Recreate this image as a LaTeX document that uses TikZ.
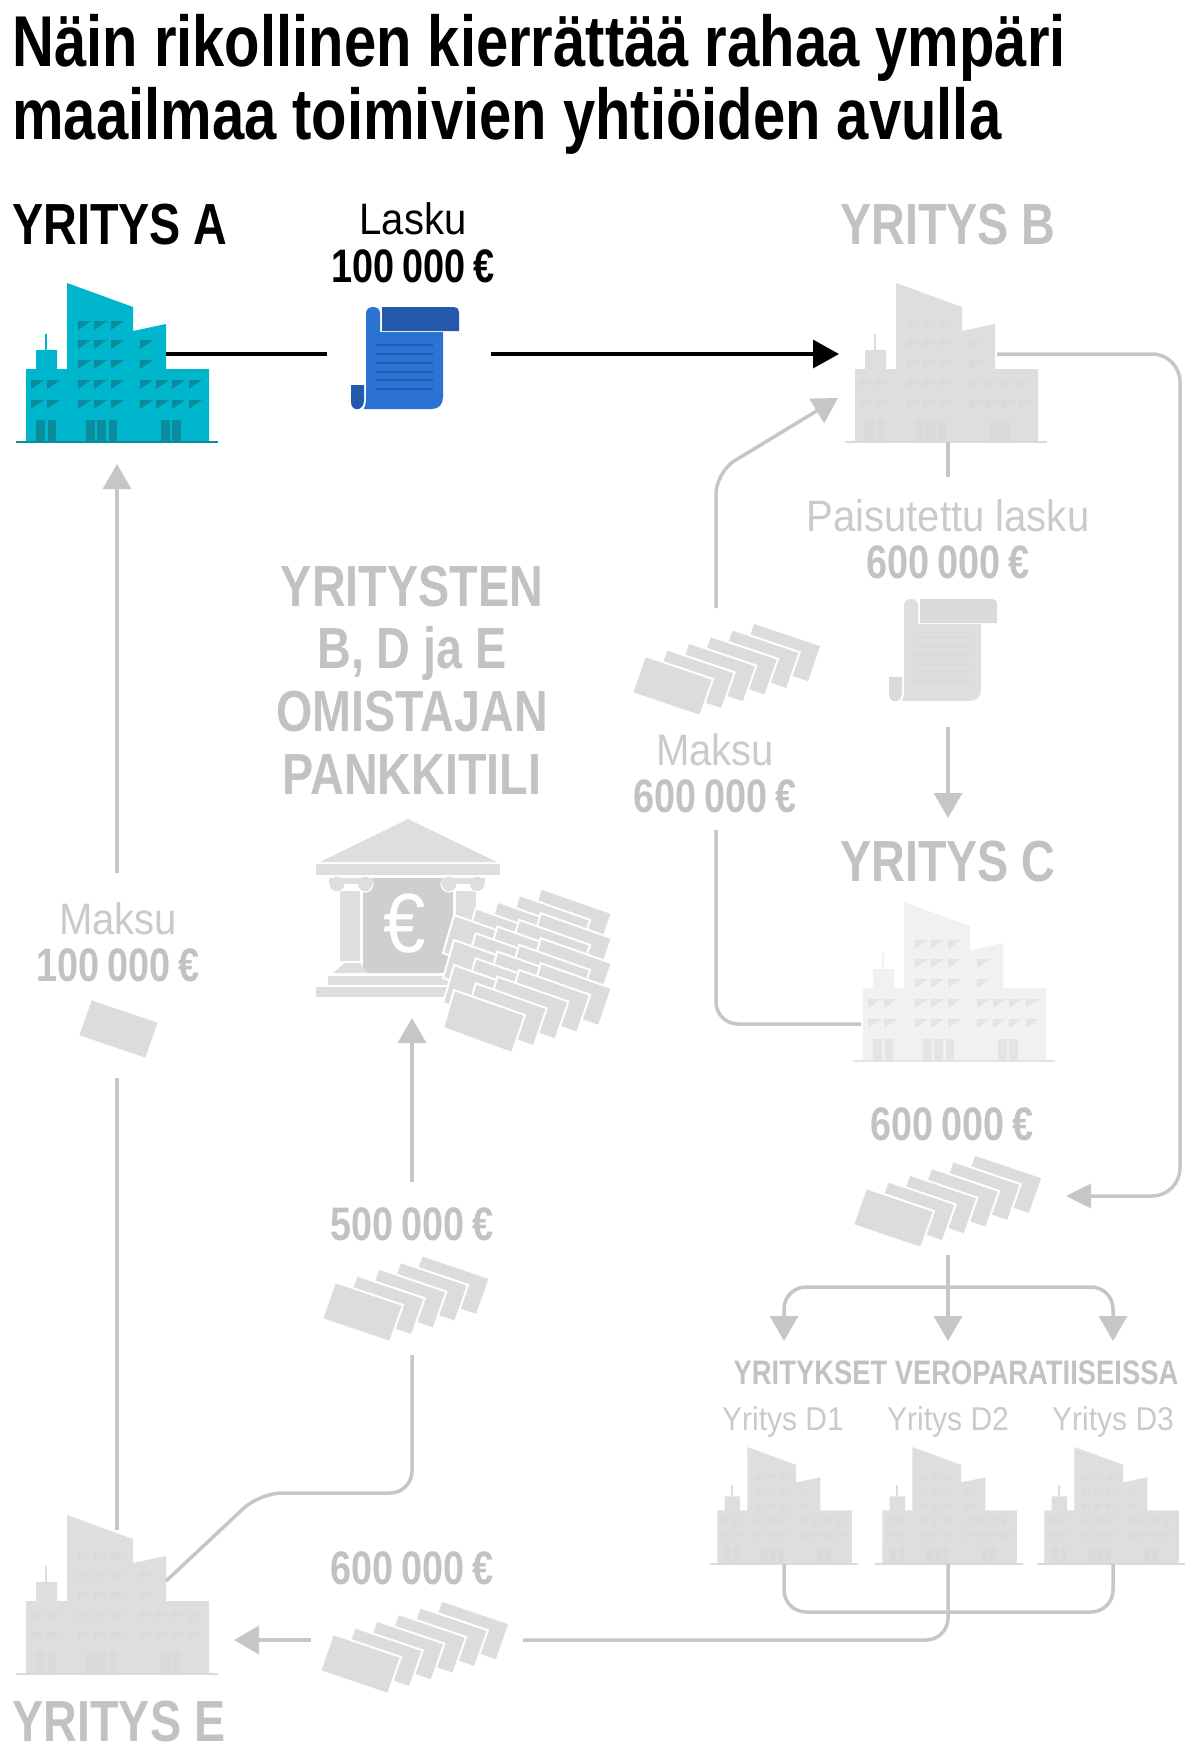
\documentclass[tikz,border=0pt]{standalone}
\usepackage{fontspec}
\setmainfont{Liberation Sans}[FakeStretch=0.91,BoldFeatures={FakeStretch=0.805}]
\usetikzlibrary{arrows.meta}
\definecolor{buildteal}{HTML}{00B6CC}
\definecolor{winteal}{HTML}{0A8C9C}
\definecolor{docblue}{HTML}{2B73D2}
\definecolor{docdark}{HTML}{2459AB}
\definecolor{txtgrey}{HTML}{C2C2C2}
\definecolor{txtpale}{HTML}{CACACA}
\definecolor{linegrey}{HTML}{C6C6C6}
\definecolor{paleblock}{HTML}{DEDEDE}
\definecolor{palewin}{HTML}{DADADA}
\definecolor{ghostblock}{HTML}{F1F1F1}
\definecolor{ghostwin}{HTML}{E4E4E4}
\definecolor{moneygrey}{HTML}{DCDCDC}
\definecolor{wallgrey}{HTML}{CFCFCF}
\tikzset{
  pics/building/.style n args={2}{code={
    \fill[#1] (10,0) -- (10,-73) -- (20,-73) -- (20,-92) -- (41,-92) -- (41,-73) -- (51,-73)
      -- (51,-159) -- (117,-135) -- (117,-111) -- (150,-118) -- (150,-73) -- (193,-73) -- (193,0) -- cycle;
    \fill[#1] (29.2,-92) rectangle (30.8,-108);
    \fill[#2] (0,-1) rectangle (202,1);
    \foreach \x in {62,78,95} {
      \foreach \y in {-121,-102,-82} {
        \fill[#2] (\x,\y) -- ++(13,0) -- ++(-13,9) -- cycle;
      }
    }
    \foreach \y in {-102,-82} {
      \fill[#2] (124,\y) -- ++(13,0) -- ++(-13,9) -- cycle;
    }
    \foreach \x in {15,31,62,78,95,124,140,156,173} {
      \foreach \y in {-62,-42} {
        \fill[#2] (\x,\y) -- ++(13,0) -- ++(-13,9) -- cycle;
      }
    }
    \foreach \a/\b in {20/29,32/40,70/79,81/90,93/101,145/154,156/165} {
      \fill[#2] (\a,-22) rectangle (\b,-1);
    }
  }},
  pics/scroll/.style n args={2}{code={
    \fill[#1] (15,6) .. controls (15,-2) and (29,-2) .. (29,6) -- (29,25) -- (92,25) -- (92,90)
      .. controls (92,97) and (88,102) .. (81,102) -- (12.7,102) .. controls (15,98) and (15,94) .. (15,90) -- cycle;
    \fill[#2] (31,0) -- (103,0) .. controls (106,0) and (108,2) .. (108,5) -- (108,24) -- (31,24) -- cycle;
    \fill[#2] (0,78) -- (13,78) -- (13,93) .. controls (13,105) and (0,105) .. (0,95) -- cycle;
    \foreach \y in {38,47,56,65,73,82} {
      \fill[#2] (25,\y-0.6) rectangle (82,\y+0.6);
    }
  }},
  pics/moneypile/.style={code={
    \foreach \n in {#1,...,0} {
      \filldraw[moneynote,shift={(\n*21.7,-\n*6.7)}] (0,0) -- (68,23) -- (55,60) -- (-13,37) -- cycle;
    }
  }},
  moneynote/.style={fill=moneygrey,draw=white,line width=1pt},
  flow/.style={draw=linegrey,line width=1.75pt,rounded corners=11pt},
  flowtip/.style={flow,-{Triangle[length=12.5pt,width=14pt]}},
  inkline/.style={draw=black,line width=1.6pt},
  bigtitle/.style={anchor=base west,inner sep=0,font=\bfseries\fontsize{36}{36}\selectfont},
  firmname/.style={anchor=base,inner sep=0,text=txtgrey,font=\bfseries\fontsize{29}{29}\selectfont},
  amount/.style={anchor=base,inner sep=0,text=txtgrey,font=\bfseries\fontsize{23.5}{23.5}\selectfont},
  caption/.style={anchor=base,inner sep=0,text=txtpale,font=\fontsize{22}{22}\selectfont},
  smallname/.style={anchor=base,inner sep=0,text=txtpale,font=\fontsize{16.5}{16.5}\selectfont},
}
\begin{document}
\begin{tikzpicture}[x=0.5pt,y=-0.5pt]
\useasboundingbox (0,0) rectangle (1199,1756);
% headline
\node[bigtitle] (title1) at (12,66) {Näin rikollinen kierrättää rahaa ympäri};
\node[bigtitle] (title2) at (12,139) {maailmaa toimivien yhtiöiden avulla};
% firms
\node[firmname,text=black,anchor=base west] (nameA) at (12,244) {YRITYS A};
\node[firmname] (nameB) at (948,244) {YRITYS B};
\node[firmname] (nameC) at (948,881) {YRITYS C};
\node[firmname] (nameE) at (119,1741) {YRITYS E};
\pic (bldgA) at (16,442) {building={buildteal}{winteal}};
\pic (bldgB) at (845,442) {building={paleblock}{palewin}};
\pic (bldgC) at (853,1061) {building={ghostblock}{ghostwin}};
\pic (bldgE) at (16,1674) {building={paleblock}{palewin}};
\pic[scale=0.735] (bldgD1) at (710,1564) {building={paleblock}{palewin}};
\pic[scale=0.735] (bldgD2) at (875,1564) {building={paleblock}{palewin}};
\pic[scale=0.735] (bldgD3) at (1037,1564) {building={paleblock}{palewin}};
\node[firmname,font=\bfseries\fontsize{17}{17}\selectfont] (haven) at (956,1384) {YRITYKSET VEROPARATIISEISSA};
\node[smallname] (nameD1) at (783,1430) {Yritys D1};
\node[smallname] (nameD2) at (948,1430) {Yritys D2};
\node[smallname] (nameD3) at (1113,1430) {Yritys D3};
% invoices
\node[caption,text=black] (invoiceA) at (413,234) {Lasku};
\node[amount,text=black] (sumA) at (413,282) {100\,000\,€};
\pic (scrollA) at (351,307) {scroll={docblue}{docdark}};
\node[caption] (invoiceB) at (948,531) {Paisutettu lasku};
\node[amount] (sumB) at (948,578) {600\,000\,€};
\pic (scrollB) at (889,599) {scroll={paleblock}{palewin}};
% bank
\node[firmname] (bank1) at (412,606) {YRITYSTEN};
\node[firmname] (bank2) at (412,668) {B, D ja E};
\node[firmname] (bank3) at (412,731) {OMISTAJAN};
\node[firmname] (bank4) at (412,794) {PANKKITILI};
\fill[paleblock] (320,862) -- (408,819) -- (497,862) -- cycle;
\fill[paleblock] (316,864) rectangle (500,875);
\fill[wallgrey] (363,878) rectangle (453,973);
\node[text=white,inner sep=0,font=\fontsize{42}{42}\selectfont] (euro) at (405,924) {€};
\filldraw[paleblock,draw=white,line width=0.8pt] (339,890) rectangle (361,962);
\filldraw[paleblock,draw=white,line width=0.8pt] (455,890) rectangle (477,962);
\foreach \x in {337,365,449,477} {
\filldraw[paleblock,draw=white,line width=0.6pt] (\x,884) circle (8);
}
\fill[paleblock] (329,878) rectangle (373,884);
\fill[paleblock] (441,878) rectangle (485,884);
\fill[paleblock] (333,973) -- (345,963) -- (360,963) -- (368,973) -- cycle;
\fill[paleblock] (328,976) rectangle (490,985);
\fill[paleblock] (316,987) rectangle (500,997);
\foreach \r in {3,...,0} {
\foreach \n in {4,...,0} {
\filldraw[moneynote,shift={(454+\n*21.7,990-\n*6.7-\r*25)}] (0,0) -- (71,25) -- (58,63) -- (-11,38) -- cycle;
}
}
% payments
\node[caption] (payA) at (118,934) {Maksu};
\node[amount] (paySumA) at (118,981) {100\,000\,€};
\pic (noteA) at (91,999) {moneypile=0};
\node[caption] (payB) at (715,765) {Maksu};
\node[amount] (paySumB) at (715,812) {600\,000\,€};
\pic (pileB) at (645,656) {moneypile=5};
\node[amount] (sumC) at (952,1140) {600\,000\,€};
\pic (pileC) at (866,1188) {moneypile=5};
\node[amount] (sumBank) at (412,1240) {500\,000\,€};
\pic (pileBank) at (335,1282) {moneypile=4};
\node[amount] (sumE) at (412,1584) {600\,000\,€};
\pic (pileE) at (333,1634) {moneypile=5};
% connector ends
\coordinate (aOut) at (166,354);
\coordinate (scrollIn) at (327,354);
\coordinate (scrollOut) at (491,354);
\coordinate (bIn) at (839,354);
\coordinate (bOut) at (997,354);
\coordinate (pileCIn) at (1066,1196);
\coordinate (bDown) at (948,442);
\coordinate (bStub) at (948,477);
\coordinate (scrollBOut) at (948,727);
\coordinate (cIn) at (948,818);
\coordinate (cOut) at (861,1024);
\coordinate (payBLow) at (716,830);
\coordinate (payBHigh) at (716,608);
\coordinate (payBKnee) at (716,472);
\coordinate (bIn2) at (838,398);
\coordinate (eUp) at (117,1530);
\coordinate (noteALow) at (117,1078);
\coordinate (payAHigh) at (117,873);
\coordinate (aIn) at (117,464);
\coordinate (eOut) at (166,1581);
\coordinate (eKnee) at (260,1493);
\coordinate (bankLow) at (412,1355);
\coordinate (bankMid) at (412,1182);
\coordinate (bankIn) at (412,1018);
\coordinate (pileCOut) at (948,1255);
\coordinate (split) at (948,1287);
\coordinate (d1In) at (784,1341);
\coordinate (d2In) at (948,1341);
\coordinate (d3In) at (1113,1341);
\coordinate (d1Out) at (784,1564);
\coordinate (d2Out) at (948,1564);
\coordinate (d3Out) at (1113,1564);
\coordinate (pileEOut) at (523,1640);
\coordinate (pileEIn) at (311,1640);
\coordinate (eIn) at (234,1640);
% connectors
\draw[inkline] (aOut) -- (scrollIn);
\draw[inkline,-{Triangle[length=13pt,width=14pt]}] (scrollOut) -- (bIn);
\draw[flow,rounded corners=14pt,-{Triangle[length=12.5pt,width=12pt]}] (bOut) -- (1180,354) -- (1180,1196) -- (pileCIn);
\draw[flow] (bDown) -- (bStub);
\draw[flowtip] (scrollBOut) -- (cIn);
\draw[flow] (cOut) -| (payBLow);
\draw[flowtip] (payBHigh) -- (payBKnee) -- (bIn2);
\draw[flow] (eUp) -- (noteALow);
\draw[flowtip] (payAHigh) -- (aIn);
\draw[flow] (eOut) -- (eKnee) -| (bankLow);
\draw[flowtip] (bankMid) -- (bankIn);
\draw[flowtip] (pileCOut) -- (d2In);
\draw[flowtip] (split) -| (d1In);
\draw[flowtip] (split) -| (d3In);
\draw[flow] (d1Out) |- (d3Out |- 0,1612) -- (d3Out);
\draw[flow] (d2Out) |- (pileEOut);
\draw[flowtip] (pileEIn) -- (eIn);
\end{tikzpicture}
\end{document}
